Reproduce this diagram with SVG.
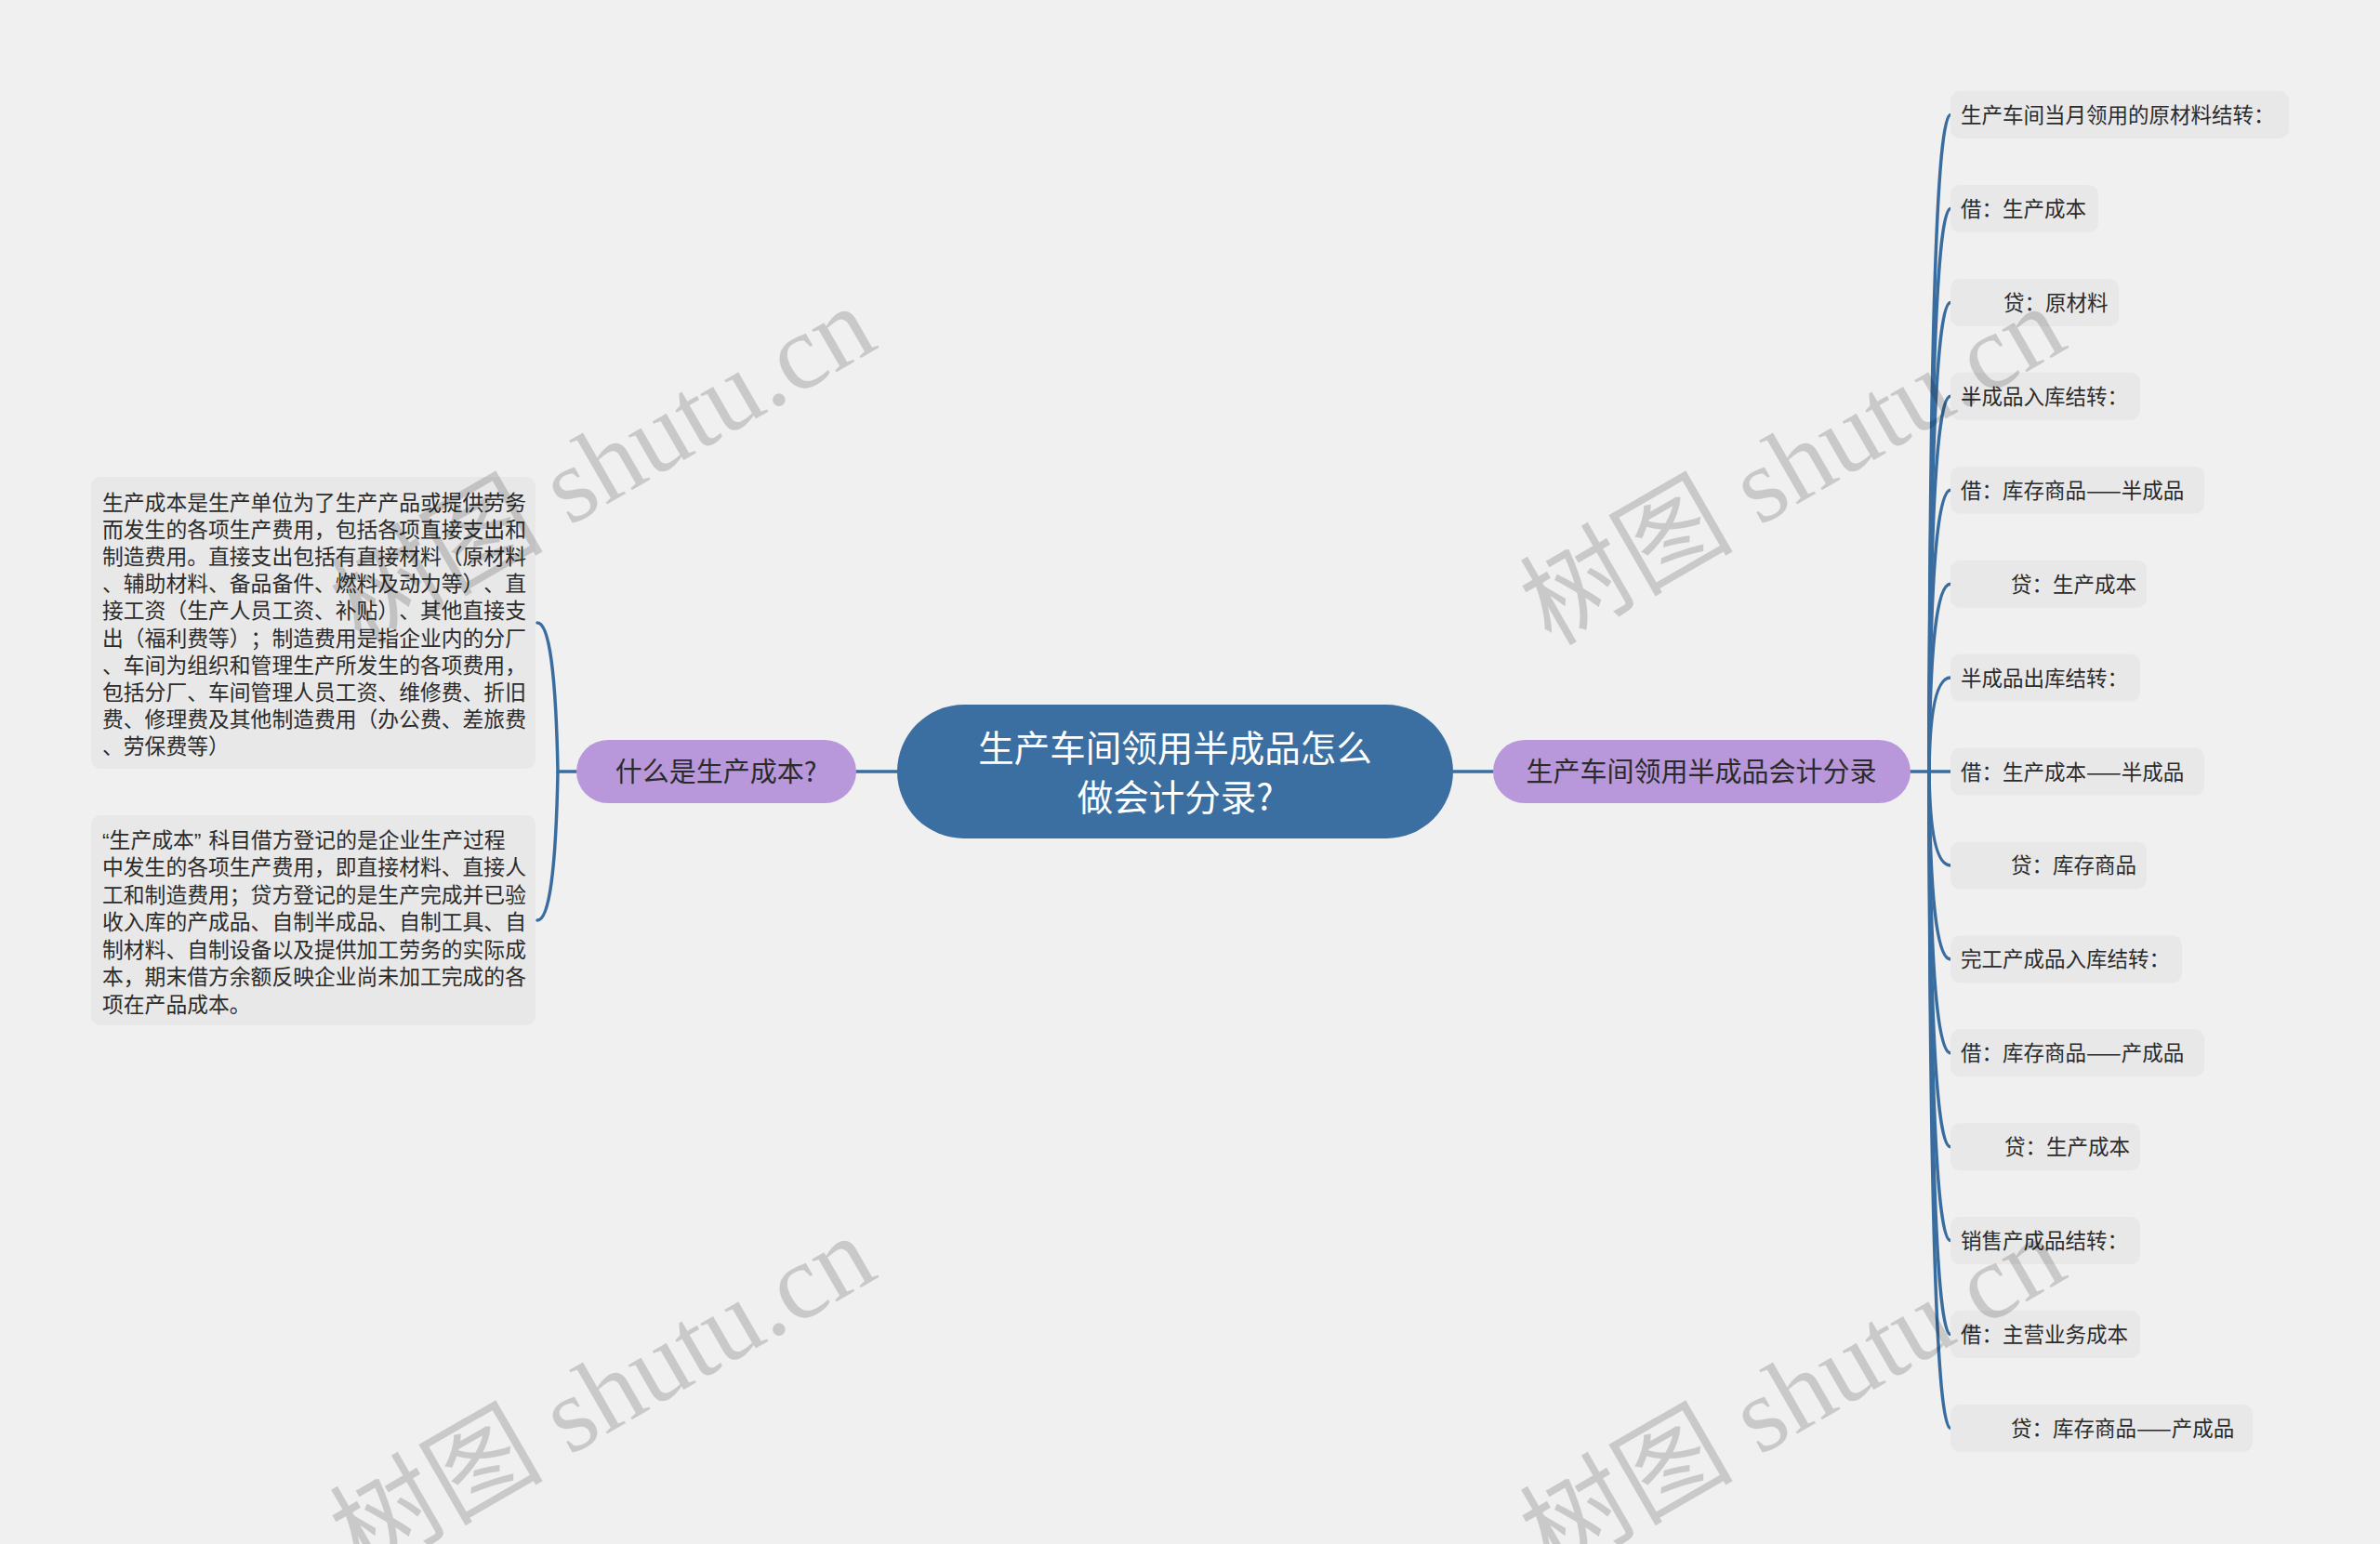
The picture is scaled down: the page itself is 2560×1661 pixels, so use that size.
<svg xmlns="http://www.w3.org/2000/svg" width="2560" height="1661" viewBox="0 0 2560 1661">
<style>
text{text-spacing-trim:space-all}
.bg{fill:#f0f0f0}
.ln{fill:none;stroke:#3a6d9f;stroke-width:3.5;stroke-linecap:round}
.leaf{fill:#e8e8e8}
.t{font-family:"Noto Sans CJK SC","Noto Sans",sans-serif;fill:#2b2b2b}
.s{font-size:22.5px}
.n{font-size:22.8px}
.q{font-family:"Liberation Sans","Noto Sans",sans-serif}
.q2{font-family:"Liberation Sans","Noto Sans",sans-serif;letter-spacing:8px}
.pur{fill:#b898da}
.pt{font-size:29px;text-anchor:middle}
.ct{font-family:"Noto Sans CJK SC","Noto Sans",sans-serif;font-size:38.5px;fill:#ffffff;text-anchor:middle}
.wm{font-family:"Liberation Serif","Noto Sans CJK SC",serif;font-size:115px;fill:#000;fill-opacity:0.16;text-anchor:end}
</style>
<rect class="bg" x="0" y="0" width="2560" height="1661"/>
<g id="connectors">
<path class="ln" d="M921 830 L965 830"/>
<path class="ln" d="M1563 830 L1606 830"/>
<path class="ln" d="M620 830 L600 830 Q597 670 578 670"/>
<path class="ln" d="M600 830 Q597 990 578 990"/>
<path class="ln" d="M2055 830 L2075 830"/>
<path class="ln" d="M2075 830 Q2076 123.5 2098 123.5"/>
<path class="ln" d="M2075 830 Q2076 224.4 2098 224.4"/>
<path class="ln" d="M2075 830 Q2076 325.4 2098 325.4"/>
<path class="ln" d="M2075 830 Q2076 426.3 2098 426.3"/>
<path class="ln" d="M2075 830 Q2076 527.2 2098 527.2"/>
<path class="ln" d="M2075 830 Q2076 628.2 2098 628.2"/>
<path class="ln" d="M2075 830 Q2076 729.1 2098 729.1"/>
<path class="ln" d="M2075 830 L2098 830"/>
<path class="ln" d="M2075 830 Q2076 930.9 2098 930.9"/>
<path class="ln" d="M2075 830 Q2076 1031.9 2098 1031.9"/>
<path class="ln" d="M2075 830 Q2076 1132.8 2098 1132.8"/>
<path class="ln" d="M2075 830 Q2076 1233.7 2098 1233.7"/>
<path class="ln" d="M2075 830 Q2076 1334.6 2098 1334.6"/>
<path class="ln" d="M2075 830 Q2076 1435.6 2098 1435.6"/>
<path class="ln" d="M2075 830 Q2076 1536.5 2098 1536.5"/>
</g>
<g id="root">
<rect x="965" y="758" width="598" height="144" rx="72" fill="#3c6fa1"/>
<text class="ct" x="1264" y="819">生产车间领用半成品怎么</text>
<text class="ct" x="1264" y="872">做会计分录?</text>
</g>
<g id="branch-left">
<rect class="pur" x="620" y="796" width="301" height="68" rx="34"/>
<text class="t pt" x="770" y="841">什么是生产成本?</text>
</g>
<g id="branch-right">
<rect class="pur" x="1606" y="796" width="449" height="68" rx="34"/>
<text class="t pt" x="1830" y="841">生产车间领用半成品会计分录</text>
</g>
<g id="left-note-1">
<rect class="leaf" x="98" y="513" width="478" height="314" rx="10"/>
<text class="t n" x="110">
<tspan x="110" y="548.5">生产成本是生产单位为了生产产品或提供劳务</tspan>
<tspan x="110" y="577.7">而发生的各项生产费用，包括各项直接支出和</tspan>
<tspan x="110" y="606.9">制造费用。直接支出包括有直接材料（原材料</tspan>
<tspan x="110" y="636.1">、辅助材料、备品备件、燃料及动力等）、直</tspan>
<tspan x="110" y="665.3">接工资（生产人员工资、补贴）、其他直接支</tspan>
<tspan x="110" y="694.5">出（福利费等）；制造费用是指企业内的分厂</tspan>
<tspan x="110" y="723.7">、车间为组织和管理生产所发生的各项费用，</tspan>
<tspan x="110" y="752.9">包括分厂、车间管理人员工资、维修费、折旧</tspan>
<tspan x="110" y="782.1">费、修理费及其他制造费用（办公费、差旅费</tspan>
<tspan x="110" y="811.3">、劳保费等）</tspan>
</text>
</g>
<g id="left-note-2">
<rect class="leaf" x="98" y="877" width="478" height="226" rx="10"/>
<text class="t n" x="110">
<tspan x="110" y="911.5"><tspan class="q">“</tspan>生产成本<tspan class="q2">”</tspan>科目借方登记的是企业生产过程</tspan>
<tspan x="110" y="941">中发生的各项生产费用，即直接材料、直接人</tspan>
<tspan x="110" y="970.5">工和制造费用；贷方登记的是生产完成并已验</tspan>
<tspan x="110" y="1000">收入库的产成品、自制半成品、自制工具、自</tspan>
<tspan x="110" y="1029.5">制材料、自制设备以及提供加工劳务的实际成</tspan>
<tspan x="110" y="1059">本，期末借方余额反映企业尚未加工完成的各</tspan>
<tspan x="110" y="1088.5">项在产品成本。</tspan>
</text>
</g>
<g id="leaf-0"><rect class="leaf" x="2098" y="98" width="364" height="51" rx="10"/><text class="t s" x="2109" y="132">生产车间当月领用的原材料结转：</text></g>
<g id="leaf-1"><rect class="leaf" x="2098" y="198.9" width="159" height="51" rx="10"/><text class="t s" x="2109" y="232.9">借：生产成本</text></g>
<g id="leaf-2"><rect class="leaf" x="2098" y="299.9" width="181" height="51" rx="10"/><text class="t s" x="2155" y="333.9">贷：原材料</text></g>
<g id="leaf-3"><rect class="leaf" x="2098" y="400.8" width="204" height="51" rx="10"/><text class="t s" x="2109" y="434.8">半成品入库结转：</text></g>
<g id="leaf-4"><rect class="leaf" x="2098" y="501.7" width="273" height="51" rx="10"/><text class="t s" x="2109" y="535.7">借：库存商品——半成品</text></g>
<g id="leaf-5"><rect class="leaf" x="2098" y="602.7" width="211" height="51" rx="10"/><text class="t s" x="2163" y="636.7">贷：生产成本</text></g>
<g id="leaf-6"><rect class="leaf" x="2098" y="703.6" width="204" height="51" rx="10"/><text class="t s" x="2109" y="737.6">半成品出库结转：</text></g>
<g id="leaf-7"><rect class="leaf" x="2098" y="804.5" width="273" height="51" rx="10"/><text class="t s" x="2109" y="838.5">借：生产成本——半成品</text></g>
<g id="leaf-8"><rect class="leaf" x="2098" y="905.4" width="211" height="51" rx="10"/><text class="t s" x="2163" y="939.4">贷：库存商品</text></g>
<g id="leaf-9"><rect class="leaf" x="2098" y="1006.4" width="249" height="51" rx="10"/><text class="t s" x="2109" y="1040.4">完工产成品入库结转：</text></g>
<g id="leaf-10"><rect class="leaf" x="2098" y="1107.3" width="273" height="51" rx="10"/><text class="t s" x="2109" y="1141.3">借：库存商品——产成品</text></g>
<g id="leaf-11"><rect class="leaf" x="2098" y="1208.2" width="204" height="51" rx="10"/><text class="t s" x="2156" y="1242.2">贷：生产成本</text></g>
<g id="leaf-12"><rect class="leaf" x="2098" y="1309.1" width="204" height="51" rx="10"/><text class="t s" x="2109" y="1343.1">销售产成品结转：</text></g>
<g id="leaf-13"><rect class="leaf" x="2098" y="1410.1" width="204" height="51" rx="10"/><text class="t s" x="2109" y="1444.1">借：主营业务成本</text></g>
<g id="leaf-14"><rect class="leaf" x="2098" y="1511" width="325" height="51" rx="10"/><text class="t s" x="2163" y="1545">贷：库存商品——产成品</text></g>
<g id="watermarks">
<text class="wm" transform="translate(947 373) rotate(-30)">树图 shutu.cn</text>
<text class="wm" transform="translate(2227 373) rotate(-30)">树图 shutu.cn</text>
<text class="wm" transform="translate(947 1373) rotate(-30)">树图 shutu.cn</text>
<text class="wm" transform="translate(2227 1373) rotate(-30)">树图 shutu.cn</text>
</g>
</svg>
